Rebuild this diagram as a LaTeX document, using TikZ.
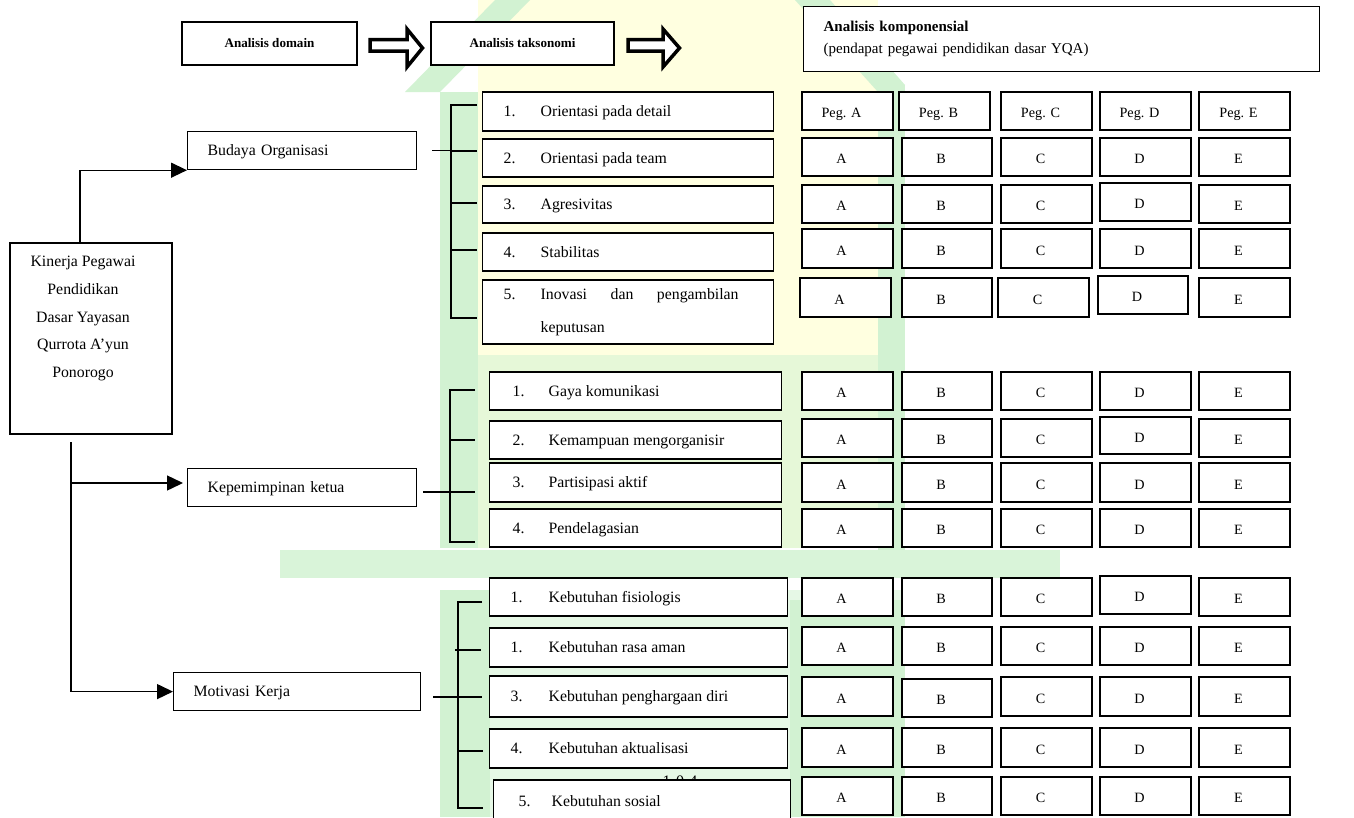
\documentclass[tikz,border=0pt]{standalone}
\usepackage{fontspec}
\setmainfont{Liberation Serif}
\usetikzlibrary{arrows.meta,calc}
\definecolor{wmG}{RGB}{210,242,210}
\definecolor{wmY}{RGB}{255,255,224}
\tikzset{
  box/.style={draw, line width=1.2pt, inner sep=0pt, fill=white},
  conn/.style={line width=1.4pt, -{Triangle[length=16pt,width=15pt]}},
  brk/.style={line width=1.5pt},
  body/.style={font=\fontsize{15.8}{27.7}\selectfont},
  oneline/.style={text height=11pt, text depth=1pt},
  cellfont/.style={font=\fontsize{14.2}{17}\selectfont, text height=13.4pt, text depth=0pt},
  headfont/.style={font=\fontsize{13.1}{16}\selectfont\bfseries},
  hollow/.style={draw, line width=3.5pt, fill=white, miter limit=10},
}
\newcommand{\cellbox}[6]{%
  \node[box, cellfont, minimum width={#4-#2}, minimum height={#5-#3}] (#1) at ({(#2+#4)/2},{(#3+#5)/2}) {\makebox[0pt]{#6\hspace{12pt}}};}
\newcommand{\stdrow}[5]{%
  \cellbox{#1a}{802}{#2}{893}{#3}{A}
  \cellbox{#1b}{902}{#2}{992}{#3}{B}
  \cellbox{#1c}{1001}{#2}{1092}{#3}{C}
  \cellbox{#1d}{1100}{#4}{1191}{#5}{D}
  \cellbox{#1e}{1199}{#2}{1290}{#3}{E}}
\newcommand{\taxbox}[9]{%
  \pgfmathsetmacro{\taxw}{#4-#2-2*#6}%
  \node[box, body, oneline, anchor=west, inner xsep=#6pt, minimum height={#5-#3}] (#1) at (#2,{(#3+#5)/2}) {\makebox[\taxw pt][l]{\makebox[#7pt][l]{#8}#9}};}
\begin{document}
\begin{tikzpicture}[x=1pt,y=-1pt]
\useasboundingbox (0,0) rectangle (1354,817);
\clip (0,0) rectangle (1354,817);
\fill[white] (0,0) rectangle (1354,817);
% faint watermark
\fill[wmY] (478,0) rectangle (878,548);
\fill[wmG!55!wmY] (478,355) rectangle (878,548);
\fill[wmG] (440,92) rectangle (478,548);
\fill[wmG] (878,85) rectangle (905,560);
\fill[wmG] (405,92) -- (440,92) -- (530,0) -- (495,0) -- cycle;
\fill[wmG] (795,0) -- (830,0) -- (905,85) -- (878,92) -- cycle;
\fill[wmG!85!white] (280,550) rectangle (1060,578);
\fill[wmG!55!white] (440,590) rectangle (905,817);
\fill[wmG] (440,590) rectangle (490,817);
\fill[wmG] (790,600) rectangle (905,817);

% header row
\node[box, headfont, minimum width=175, minimum height=43] (dom) at (269.5,43.5) {Analisis domain};
\node[box, headfont, minimum width=183, minimum height=43] (tak) at (522.5,43.5) {Analisis taksonomi};
\node[box, anchor=north west, minimum width=516, minimum height=65, inner xsep=20pt, text width=476pt, align=left,
      font=\fontsize{15}{22}\selectfont] (komp) at (803,6)
      {\textbf{Analisis komponensial}\\(pendapat pegawai pendidikan dasar YQA)};
\draw[hollow] (370,39.5) -- (407,39.5) -- (407,29) -- (422.5,48) -- (407,67) -- (407,51) -- (370,51) -- cycle;
\draw[hollow] (628,39.5) -- (663,39.5) -- (663,29) -- (679.5,48) -- (663,67) -- (663,51) -- (628,51) -- cycle;

% domain column
\node[box, minimum width=162, minimum height=191] (kin) at (91,338.5) {};
\node[body, align=center, anchor=north, inner sep=0pt] (kintext) at (83,256)
  {Kinerja Pegawai\\Pendidikan\\Dasar Yayasan\\Qurrota A’yun\\Ponorogo};
\node[box, body, oneline, anchor=north west, minimum height=38, inner xsep=20pt, text width=189pt, align=left] (bud) at (187,131) {Budaya Organisasi};
\node[box, body, oneline, anchor=north west, minimum height=38, inner xsep=20pt, text width=189pt, align=left] (kep) at (187,468) {Kepemimpinan ketua};
\node[box, body, oneline, anchor=north west, minimum height=38, inner xsep=20pt, text width=207pt, align=left] (mot) at (173,672) {Motivasi Kerja};

\draw[conn] ([xshift=-11pt]kin.north) |- (bud.south west);
\coordinate (kst) at (71,442);
\coordinate (kbr) at (71,483);
\draw[conn] (kst) |- (mot.west);
\draw[conn, shorten >=4pt] (kbr) -- (kbr -| kep.west);

% page number hidden behind boxes
\node[font=\fontsize{16}{16}\selectfont, inner sep=0pt] (pg) at (680,781) {1\,\,0\,\,4};

% taxonomy group 1
\taxbox{t11}{482}{92}{773}{131}{21}{37}{1.}{Orientasi pada detail}
\taxbox{t12}{482}{139}{773}{177}{21}{37}{2.}{Orientasi pada team}
\taxbox{t13}{482}{186}{773}{223}{21}{37}{3.}{Agresivitas}
\taxbox{t14}{482}{233}{773}{271}{21}{37}{4.}{Stabilitas}
\node[box, body, anchor=west, inner xsep=21pt, minimum height=64] (t15) at (482,312)
  {\makebox[249pt][l]{\makebox[37pt][l]{5.}\parbox[t]{198pt}{\fontsize{15.8}{33}\selectfont\makebox[198pt]{Inovasi\hfill dan\hfill pengambilan}\\keputusan}}};
% taxonomy group 2
\taxbox{t21}{489}{372}{781}{410}{23}{36}{1.}{Gaya komunikasi}
\taxbox{t22}{489}{421}{781}{459}{23}{36}{2.}{Kemampuan mengorganisir}
\taxbox{t23}{489}{463}{781}{502}{23}{36}{3.}{Partisipasi aktif}
\taxbox{t24}{489}{509}{781}{547}{23}{36}{4.}{Pendelagasian}
% taxonomy group 3
\taxbox{t31}{489}{578}{787}{616}{21}{38}{1.}{Kebutuhan fisiologis}
\taxbox{t32}{489}{628}{787}{667}{21}{38}{1.}{Kebutuhan rasa aman}
\taxbox{t33}{489}{676}{787}{717}{21}{38}{3.}{Kebutuhan penghargaan diri}
\taxbox{t34}{489}{729}{787}{768}{21}{38}{4.}{Kebutuhan aktualisasi}
\taxbox{t35}{493}{780}{790}{822}{25}{33}{5.}{Kebutuhan sosial}

% brackets
\coordinate (b1) at (451,105); \coordinate (b1e) at (451,318);
\draw[brk] (477,105) -- (b1) -- (b1e) -- (477,318);
\foreach \yy in {151,203,250} \draw[brk] (451,\yy) -- (477,\yy);
\draw[brk] ([xshift=15pt]bud.east) -- (bud.east -| b1);

\coordinate (b2) at (450,390); \coordinate (b2e) at (450,542);
\draw[brk] (475,390) -- (b2) -- (b2e) -- (475,542);
\foreach \yy in {440,492} \draw[brk] (450,\yy) -- (475,\yy);
\coordinate (kepc) at (423,492);
\draw[brk] (kepc) -- (kepc -| b2);

\coordinate (b3) at (458,602); \coordinate (b3e) at (458,808);
\draw[brk] (482,602) -- (b3) -- (b3e) -- (483,808);
\draw[brk] (455,650) -- (481,650);
\draw[brk] (458,697) -- (482,697);
\draw[brk] (458,751) -- (483,751);
\coordinate (motc) at (433,697);
\draw[brk] (motc) -- (motc -| b3);

% component grid
\cellbox{h1}{802}{92}{893}{130}{Peg. A}
\cellbox{h2}{899}{92}{990}{130}{Peg. B}
\cellbox{h3}{1001}{92}{1092}{130}{Peg. C}
\cellbox{h4}{1100}{92}{1191}{130}{Peg. D}
\cellbox{h5}{1199}{92}{1290}{130}{Peg. E}
\stdrow{r12}{138}{176}{138}{176}
\stdrow{r13}{185}{223}{183}{221}
\stdrow{r14}{229}{268}{229}{268}
\cellbox{r15a}{800}{278}{891}{317}{A}
\cellbox{r15b}{902}{278}{992}{317}{B}
\cellbox{r15c}{998}{278}{1089}{317}{C}
\cellbox{r15d}{1098}{276}{1188}{314}{D}
\cellbox{r15e}{1199}{278}{1290}{317}{E}
\stdrow{r21}{372}{410}{372}{410}
\stdrow{r22}{419}{457}{417}{454}
\stdrow{r23}{463}{502}{463}{502}
\stdrow{r24}{509}{547}{509}{547}
\stdrow{r31}{578}{616}{576}{614}
\stdrow{r32}{627}{665}{627}{665}
\cellbox{r33a}{802}{677}{893}{716}{A}
\cellbox{r33b}{902}{679}{992}{717}{B}
\cellbox{r33c}{1001}{677}{1092}{716}{C}
\cellbox{r33d}{1100}{677}{1191}{716}{D}
\cellbox{r33e}{1199}{677}{1290}{716}{E}
\stdrow{r34}{728}{767}{728}{767}
\stdrow{r35}{777}{815}{777}{815}
\end{tikzpicture}
\end{document}
